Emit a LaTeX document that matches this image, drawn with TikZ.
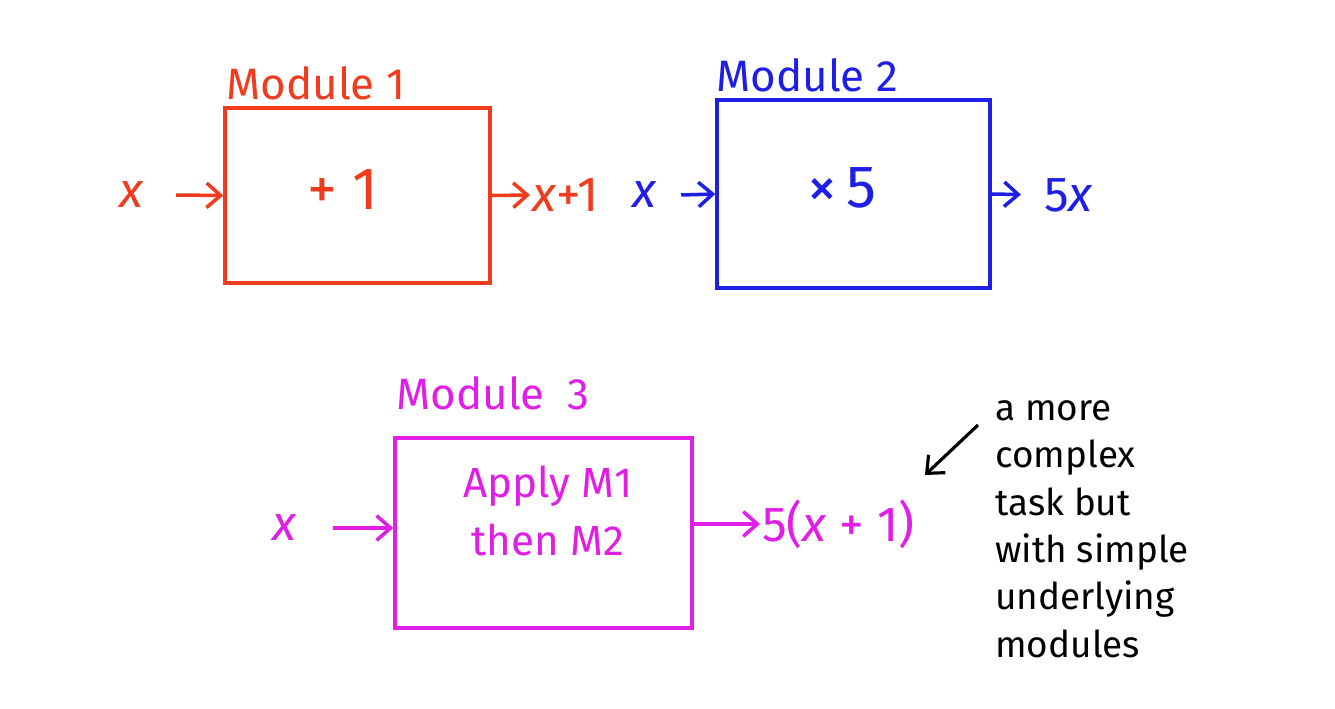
\documentclass[tikz,border=0pt]{standalone}
\usepackage{fontspec}
\setmainfont{Fira Sans}
\usetikzlibrary{arrows.meta}
\definecolor{cred}{HTML}{F03C1E}
\definecolor{cblue}{HTML}{1E1EE6}
\definecolor{cmag}{HTML}{E11EE6}
\begin{document}
\begin{tikzpicture}[x=0.02cm,y=-0.02cm,
  box/.style={draw,line width=2pt,inner sep=0pt},
  lbl/.style={font=\fontsize{25}{30}\selectfont,inner sep=0pt},
  txt/.style={font=\fontsize{28}{32}\selectfont,inner sep=1pt},
  big/.style={font=\fontsize{34}{40}\selectfont,inner sep=1pt},
  conn/.style={line width=2pt,-{Straight Barb[length=8pt,width=14pt,line width=2pt]}},
  note/.style={font=\fontsize{21}{27}\selectfont,align=left,inner sep=0pt}]
\useasboundingbox[fill=white] (0,0) rectangle (1335,709);
% Module 1
\begin{scope}[cred]
\node[box,minimum width=5.3cm,minimum height=3.5cm] (m1) at (357.5,195.5) {};
\node[lbl,anchor=south west] (l1) at (226,100) {Module 1};
\node[big] (f1) at (343,190) {+ 1};
\node[txt] (x1) at (132,195) {\textit{x}};
\node[txt,anchor=west] (y1) at (530,195) {\textit{x}+1};
\draw[conn] (x1.east) ++(30,0) -- (m1.west);
\draw[conn] (m1.east) -- (y1.west);
\end{scope}
% Module 2
\begin{scope}[cblue]
\node[box,minimum width=5.46cm,minimum height=3.76cm] (m2) at (853.5,194) {};
\node[lbl,anchor=south west] (l2) at (716,92) {Module 2};
\node[big] (f2) at (842,188) {×\,5};
\node[txt] (x2) at (645,195) {\textit{x}};
\node[txt,anchor=west] (y2) at (1042,195) {5\textit{x}};
\draw[conn] (x2.east) ++(22,0) -- (m2.west);
\draw[conn,shorten >=12pt] (m2.east) -- (y2.west);
\end{scope}
% Module 3
\begin{scope}[cmag]
\node[box,minimum width=5.94cm,minimum height=3.8cm] (m3) at (543.5,533) {};
\node[lbl,anchor=south west] (l3) at (396,410) {Module\ \ 3};
\node[txt,align=center,font=\fontsize{24}{33}\selectfont] (f3) at (548,511) {Apply M1\\then M2};
\node[txt] (x3) at (285,528) {\textit{x}};
\node[txt,anchor=west] (y3) at (760,524) {5(\textit{x} + 1)};
\draw[conn] (x3.east) ++(34,0) -- (m3.west |- x3);
\draw[conn] (m3.east |- y3) -- (y3.west);
\end{scope}
% note
\node[note,anchor=north west] (n) at (995,400) {a more\\complex\\task but\\with simple\\underlying\\modules};
\coordinate (na) at (978,425);
\coordinate (nb) at (925,475);
\draw[line width=1.8pt,-{Straight Barb[length=8pt,width=14pt,line width=1.8pt]}] (na) -- (nb);
\end{tikzpicture}
\end{document}
